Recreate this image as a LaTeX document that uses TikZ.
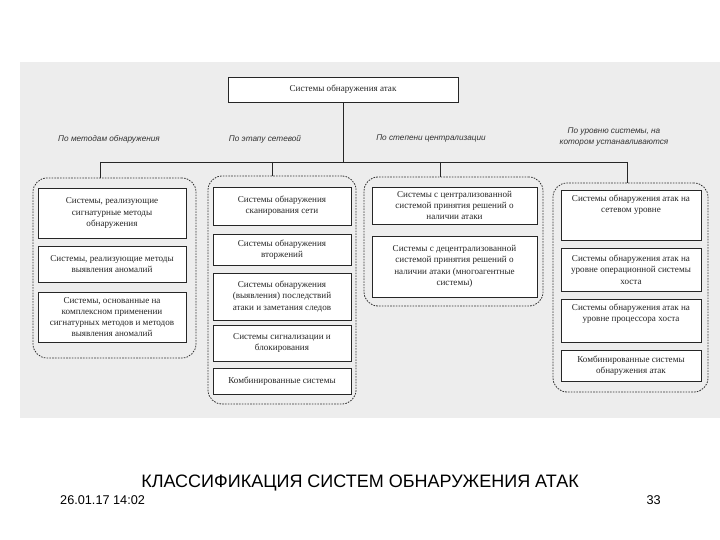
\documentclass[tikz,border=0pt]{standalone}
\usepackage{fontspec}
\setmainfont{Liberation Serif}
\setsansfont{Liberation Sans}
\usetikzlibrary{fit}
\begin{document}
\begin{tikzpicture}[x=1pt,y=-1pt,
  cellbox/.style={draw=black!85, line width=0.9pt, fill=white, inner sep=0pt},
  celltext/.style={font=\fontsize{9.1}{11.3}\selectfont, text=black!85, align=center, inner sep=0pt},
  grp/.style={draw=black!80, line width=0.8pt, dash pattern=on 1.6pt off 1.2pt, rounded corners=14pt, inner sep=0pt},
  lab/.style={font=\sffamily\itshape\fontsize{8.2}{10.5}\selectfont, text=black!80, align=center, inner sep=0pt},
  conn/.style={draw=black!85, line width=0.9pt}]
\useasboundingbox (0,0) rectangle (720,540);
\fill[black!7] (20,62) rectangle (720,418);

% top box
\node[cellbox, fit={(228,77)(458,102)}] (top) {};
\node[celltext] (ttop) at (top.center) {Системы обнаружения атак};

% group frames
\node[grp, fit={(33,178)(196,358)}] (g1) {};
\node[grp, fit={(208,176)(356,404)}] (g2) {};
\node[grp, fit={(364,177)(543,306)}] (g3) {};
\node[grp, fit={(553,183)(708,392)}] (g4) {};

% connectors
\coordinate (b1) at (100,162);
\coordinate (b2) at (272,162);
\coordinate (b3) at (440,162);
\coordinate (b4) at (627,162);
\draw[conn] (top.south) -- (top.south |- b1);
\draw[conn] (b1) -- (b4);
\draw[conn] (b1) -- (b1 |- g1.north);
\draw[conn] (b2) -- (b2 |- g2.north);
\draw[conn] (b3) -- (b3 |- g3.north);
\draw[conn] (b4) -- (b4 |- g4.north);

% labels
\node[lab] (l1) at (109,139) {По методам обнаружения};
\node[lab] (l2) at (265,139) {По этапу сетевой};
\node[lab] (l3) at (431,139) {По степени централизации};
\node[lab] (l4) at (614,137) {По уровню системы, на\\котором устанавливаются};

% group 1
\node[cellbox, fit={(38,188)(186,238)}] (c11) {};
\node[celltext] (t11) at (c11.center) {Системы, реализующие\\сигнатурные методы\\обнаружения};
\node[cellbox, fit={(38,246)(186,282)}] (c12) {};
\node[celltext] (t12) at (c12.center) {Системы, реализующие методы\\выявления аномалий};
\node[cellbox, fit={(38,292)(186,342)}] (c13) {};
\node[celltext] (t13) at (c13.center) {Системы, основанные на\\комплексном применении\\сигнатурных методов и методов\\выявления аномалий};

% group 2
\node[cellbox, fit={(213,187)(351,225)}] (c21) {};
\node[celltext] (t21) at (c21.center) {Системы обнаружения\\сканирования сети};
\node[cellbox, fit={(213,234)(351,265)}] (c22) {};
\node[celltext] (t22) at (c22.center) {Системы обнаружения\\вторжений};
\node[cellbox, fit={(213,273)(351,320)}] (c23) {};
\node[celltext] (t23) at (c23.center) {Системы обнаружения\\(выявления) последствий\\атаки и заметания следов};
\node[cellbox, fit={(213,325)(351,361)}] (c24) {};
\node[celltext] (t24) at (c24.center) {Системы сигнализации и\\блокирования};
\node[cellbox, fit={(213,368)(351,394)}] (c25) {};
\node[celltext] (t25) at (c25.center) {Комбинированные системы};

% group 3
\node[cellbox, fit={(372,187)(537,224)}] (c31) {};
\node[celltext] (t31) at (c31.center) {Системы с централизованной\\системой принятия решений о\\наличии атаки};
\node[cellbox, fit={(372,236)(537,297)}] (c32) {};
\node[celltext] (t32) at (c32.center) {Системы с децентрализованной\\системой принятия решений о\\наличии атаки (многоагентные\\системы)};

% group 4
\node[cellbox, fit={(561,190)(701,240)}] (c41) {};
\node[celltext, anchor=north] (t41) at ([yshift=-5pt]c41.north) {Системы обнаружения атак на\\сетевом уровне};
\node[cellbox, fit={(561,248)(701,291)}] (c42) {};
\node[celltext] (t42) at (c42.center) {Системы обнаружения атак на\\уровне операционной системы\\хоста};
\node[cellbox, fit={(561,299)(701,342)}] (c43) {};
\node[celltext, anchor=north] (t43) at ([yshift=-5pt]c43.north) {Системы обнаружения атак на\\уровне процессора хоста};
\node[cellbox, fit={(561,350)(701,381)}] (c44) {};
\node[celltext] (t44) at (c44.center) {Комбинированные системы\\обнаружения атак};

% caption and footer
\node[font=\sffamily\fontsize{18}{20}\selectfont, inner sep=0pt] (cap) at (360,483) {КЛАССИФИКАЦИЯ СИСТЕМ ОБНАРУЖЕНИЯ АТАК};
\node[font=\sffamily\fontsize{12.7}{14}\selectfont, anchor=west, inner sep=0pt] (date) at (60,500) {26.01.17 14:02};
\node[font=\sffamily\fontsize{12.7}{14}\selectfont, anchor=east, inner sep=0pt] (num) at (661,500) {33};
\end{tikzpicture}
\end{document}
